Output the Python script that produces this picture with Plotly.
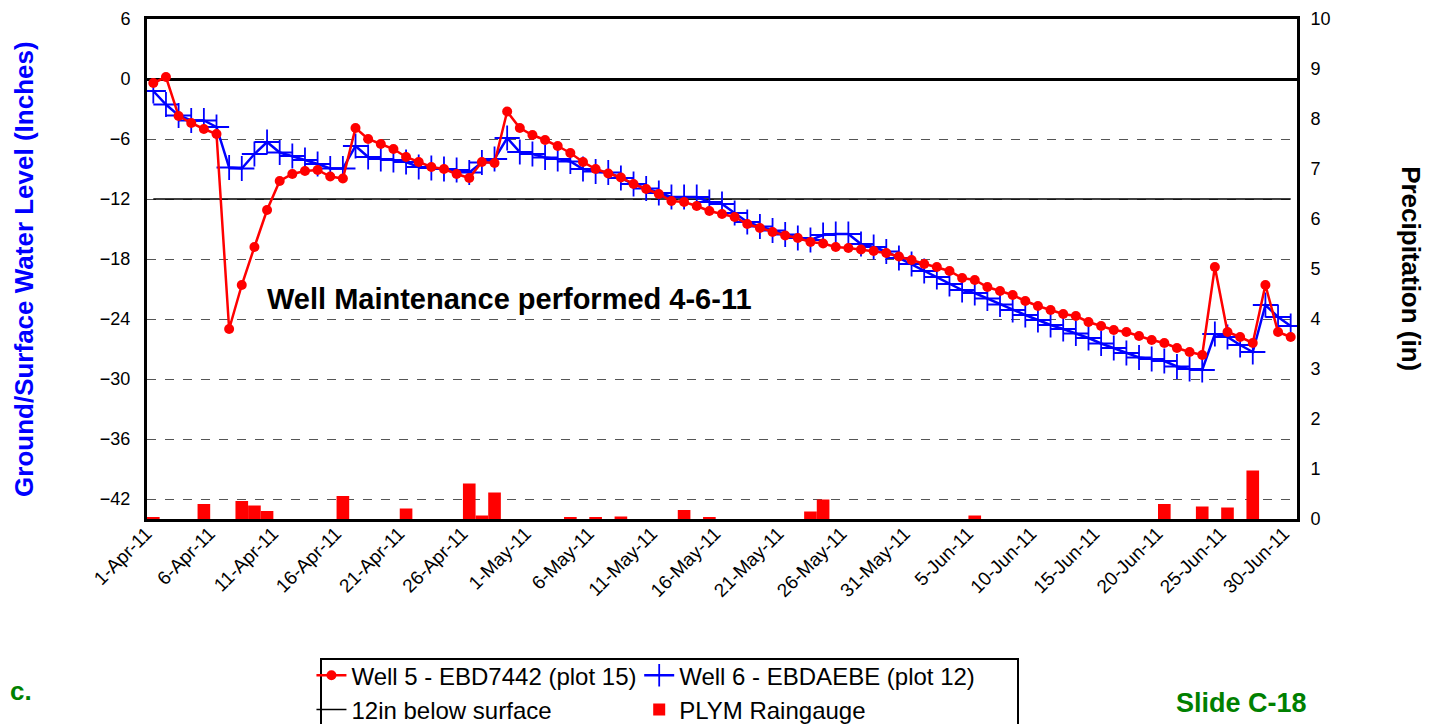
import pandas as pd
import plotly.graph_objects as go

# ---------------- data ----------------
dates = pd.date_range("2011-04-01", "2011-06-30", freq="D")

well5 = [-0.4, 0.2, -3.7, -4.4, -5.0, -5.5, -25.0, -20.6, -16.8, -13.1,
         -10.2, -9.5, -9.2, -9.1, -9.75, -9.95, -4.9, -6.0, -6.5, -7.0,
         -7.8, -8.3, -8.8, -9.0, -9.5, -9.9, -8.3, -8.4, -3.25, -4.9,
         -5.6, -6.1, -6.7, -7.4, -8.3, -9.0, -9.45, -9.85, -10.5, -11.0,
         -11.5, -12.2, -12.3, -12.7, -13.2, -13.5, -13.8, -14.5, -14.9, -15.3,
         -15.65, -15.9, -16.3, -16.45, -16.8, -16.9, -17.05, -17.2, -17.4, -17.75,
         -18.1, -18.5, -18.8, -19.2, -19.9, -20.1, -20.8, -21.2, -21.6, -22.2,
         -22.7, -23.1, -23.5, -23.7, -24.3, -24.7, -25.1, -25.3, -25.7, -26.1,
         -26.4, -26.9, -27.3, -27.6, -18.8, -25.3, -25.8, -26.4, -20.6, -25.3,
         -25.8]

well6 = [-1.2, -2.55, -3.65, -4.15, -4.15, -4.8, -8.85, -8.95, -7.5, -6.3,
         -7.35, -7.7, -8.1, -8.5, -8.95, -8.95, -6.7, -7.8, -8.0, -8.1,
         -8.3, -8.8, -8.9, -9.0, -9.1, -9.35, -8.35, -8.0, -5.9, -7.3,
         -7.5, -7.85, -8.0, -8.25, -9.0, -9.25, -9.35, -9.9, -10.5, -10.95,
         -11.4, -11.8, -11.8, -11.8, -12.3, -12.5, -13.4, -14.3, -14.75, -15.15,
         -15.55, -15.9, -16.1, -15.6, -15.5, -15.5, -16.5, -16.8, -17.25, -17.9,
         -18.5, -19.2, -19.8, -20.5, -21.1, -21.4, -21.95, -22.55, -23.1, -23.6,
         -24.1, -24.6, -25.0, -25.45, -25.9, -26.45, -26.9, -27.4, -27.85, -28.0,
         -28.2, -28.75, -29.0, -29.1, -25.5, -25.8, -26.6, -27.3, -22.6, -23.8,
         -24.7]

twelve_in = [-12.0] * len(dates)

precip = [0.03, 0, 0, 0, 0.30, 0, 0, 0.36, 0.27, 0.16,
          0, 0, 0, 0, 0, 0.46, 0, 0, 0, 0,
          0.21, 0, 0, 0, 0, 0.71, 0.07, 0.53, 0, 0,
          0, 0, 0, 0.03, 0, 0.03, 0, 0.05, 0, 0,
          0, 0, 0.18, 0, 0.03, 0, 0, 0, 0, 0,
          0, 0, 0.15, 0.39, 0, 0, 0, 0, 0, 0,
          0, 0, 0, 0, 0, 0.07, 0, 0, 0, 0,
          0, 0, 0, 0, 0, 0, 0, 0, 0, 0,
          0.30, 0, 0, 0.25, 0, 0.23, 0, 0.97, 0, 0,
          0]

left_ticks = [-42, -36, -30, -24, -18, -12, -6, 0, 6]
right_ticks = list(range(0, 11))

# ---------------- figure ----------------
FONT = "Liberation Sans, Arial, sans-serif"
fig = go.Figure()

fig.add_trace(go.Bar(
    x=dates, y=precip, name="PLYM Raingauge", yaxis="y2",
    marker=dict(color="#FF0000", line=dict(width=0)),
    width=86400000, legend="legend2", legendrank=2))

fig.add_trace(go.Scatter(
    x=dates, y=twelve_in, name="12in below surface", mode="lines",
    line=dict(color="black", width=1.5), legend="legend", legendrank=2))

fig.add_trace(go.Scatter(
    x=dates, y=well6, name="Well 6 - EBDAEBE (plot 12)", mode="lines+markers",
    line=dict(color="#0000FF", width=2.5),
    marker=dict(symbol="cross-thin", size=18,
                line=dict(color="#0000FF", width=1.8)),
    legend="legend2", legendrank=1))

fig.add_trace(go.Scatter(
    x=dates, y=well5, name="Well 5 - EBD7442 (plot 15)", mode="lines+markers",
    line=dict(color="#FF0000", width=2.5),
    marker=dict(symbol="circle", size=10, color="#FF0000"),
    legend="legend", legendrank=1))

legend_common = dict(
    orientation="v", bgcolor="rgba(0,0,0,0)", borderwidth=0,
    font=dict(family=FONT, size=24, color="black"),
    xref="paper", yref="container",
    yanchor="top", xanchor="left", tracegroupgap=0, itemwidth=30,
    traceorder="normal")

# page body adds ~7px offset; margins compensate so plot sits at x 146-1296, y 18-518
PLOT_H = 500
fig.update_layout(
    width=1442, height=724,
    margin=dict(l=139, r=153, t=11, b=213),
    paper_bgcolor="white", plot_bgcolor="white",
    font=dict(family=FONT, size=18, color="black"),
    barmode="overlay",
    showlegend=True,
    legend=dict(x=0.143, y=0.109, **legend_common),
    legend2=dict(x=0.428, y=0.109, **legend_common),
    xaxis=dict(
        type="date", automargin=False,
        range=["2011-03-31 12:00", "2011-06-30 12:00"],
        tick0="2011-04-01", dtick=5 * 86400000,
        tickformat="%-d-%b-%y", tickangle=-45,
        tickfont=dict(family=FONT, size=19, color="black"),
        ticklabelshift=-7, ticklabelstandoff=-7,
        showgrid=False, showline=True, linecolor="black", linewidth=3,
        mirror=True, ticks="", zeroline=False),
    yaxis=dict(
        range=[-44, 6], tickvals=left_ticks, automargin=False,
        tickfont=dict(family=FONT, size=18, color="black"),
        ticklabeloverflow="allow",
        showgrid=True, gridcolor="#555555", gridwidth=1, griddash="dash",
        zeroline=True, zerolinecolor="black", zerolinewidth=3,
        showline=True, linecolor="black", linewidth=3, ticks="",
        ticklabelstandoff=10),
    yaxis2=dict(
        range=[0, 10], tickvals=right_ticks, overlaying="y", side="right",
        automargin=False, ticklabeloverflow="allow",
        tickfont=dict(family=FONT, size=18, color="black"),
        showgrid=False, zeroline=False,
        showline=True, linecolor="black", linewidth=3, ticks="",
        ticklabelstandoff=7),
    annotations=[
        dict(text="<b>Ground/Surface Water Level (Inches)</b>", xref="paper", yref="paper",
             x=-0.107, y=0.5, textangle=-90, showarrow=False,
             font=dict(family=FONT, size=26, color="#0000FF"),
             xanchor="center", yanchor="middle"),
        dict(text="<b>Precipitation (in)</b>", xref="paper", yref="paper",
             x=1.099, y=0.5, textangle=90, showarrow=False,
             font=dict(family=FONT, size=26, color="black"),
             xanchor="center", yanchor="middle"),
        dict(text="<b>Well Maintenance performed 4-6-11</b>", xref="paper", yref="y",
             x=0.315, y=-22, showarrow=False,
             font=dict(family=FONT, size=29, color="black"),
             xanchor="center", yanchor="middle"),
        dict(text="<b>c.</b>", xref="paper", yref="paper",
             x=-0.121, y=-172 / PLOT_H, showarrow=False,
             font=dict(family=FONT, size=26, color="#008000"),
             xanchor="left", yanchor="middle"),
        dict(text="<b>Slide C-18</b>", xref="paper", yref="paper",
             x=0.893, y=-167 / PLOT_H, showarrow=False,
             font=dict(family=FONT, size=27, color="#008000"),
             xanchor="left", yanchor="top"),
    ],
    shapes=[
        dict(type="rect", xref="paper", yref="paper",
             x0=(320 - 146) / 1150, x1=(1017 - 146) / 1150,
             y0=(518 - 740) / PLOT_H, y1=(518 - 658) / PLOT_H,
             line=dict(color="black", width=2), fillcolor="rgba(0,0,0,0)"),
    ],
)

fig.write_html("out.html")
